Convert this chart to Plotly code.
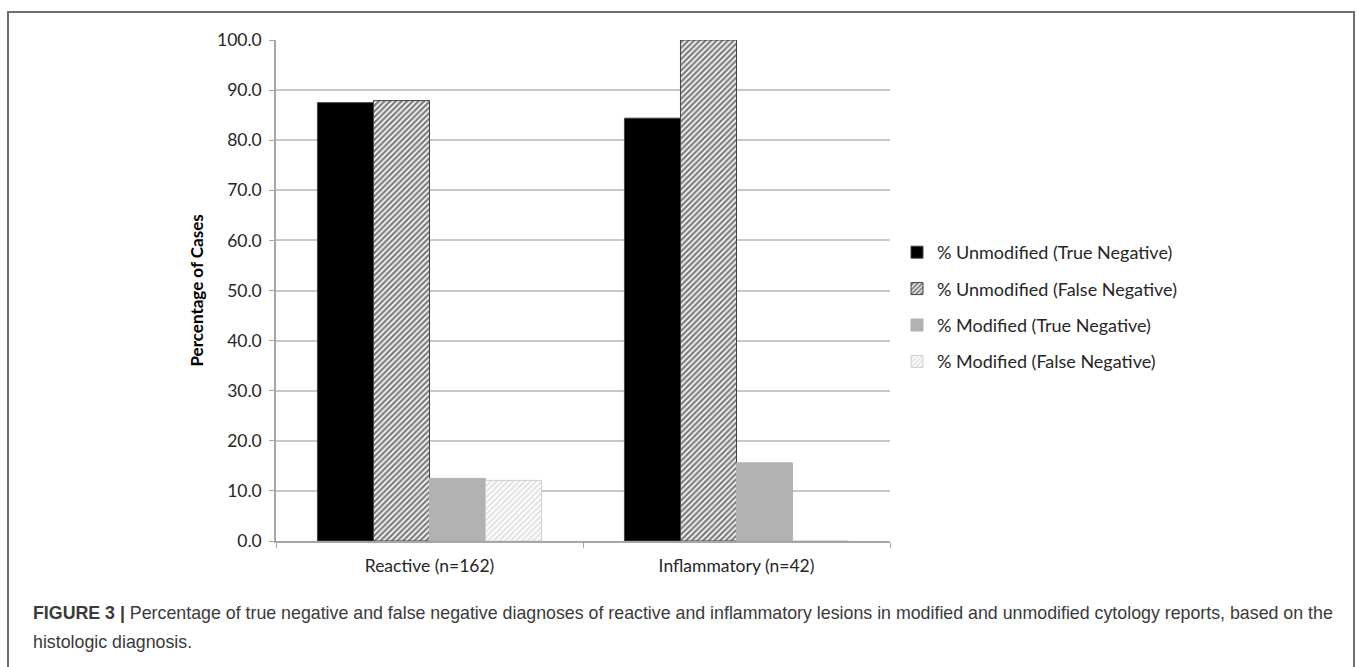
import plotly.graph_objects as go

# Diagnostic outcome percentages per lesion type
categories = ["Reactive (n=162)", "Inflammatory (n=42)"]
unmodified_true_neg = [87.5, 84.4]
unmodified_false_neg = [87.9, 100.0]
modified_true_neg = [12.5, 15.6]
modified_false_neg = [12.1, 0.0]

series_names = [
    "% Unmodified (True Negative)",
    "% Unmodified (False Negative)",
    "% Modified (True Negative)",
    "% Modified (False Negative)",
]
y_ticks = [0, 10, 20, 30, 40, 50, 60, 70, 80, 90, 100]

W, H = 1357, 667
L, R, T, B = 276, 890, 40, 541  # plot area in pixels


def px_x(x):
    return (x - L) / (R - L)


def px_y(y):
    return (B - y) / (B - T)


chart_font = "Lato, 'Open Sans', sans-serif"
text_col = "#262626"

fig = go.Figure()

fig.add_trace(go.Bar(
    x=categories, y=unmodified_true_neg, name=series_names[0], legendgroup="a",
    marker=dict(color="#000000", line=dict(color="#444444", width=1)),
))
fig.add_trace(go.Bar(
    x=categories, y=unmodified_false_neg, name=series_names[1], legendgroup="b",
    marker=dict(color="#ffffff", line=dict(color="#444444", width=1),
                pattern=dict(shape="/", fgcolor="#000000", bgcolor="#ffffff",
                             size=4, solidity=0.6)),
))
fig.add_trace(go.Bar(
    x=categories, y=modified_true_neg, name=series_names[2], legendgroup="c",
    marker=dict(color="#b2b2b2", line=dict(color="#b2b2b2", width=1)),
))
fig.add_trace(go.Bar(
    x=categories, y=modified_false_neg, name=series_names[3], legendgroup="d",
    marker=dict(color="#ffffff", line=dict(color="#d0d0d0", width=1),
                pattern=dict(shape="/", fgcolor="#c4c4c4", bgcolor="#ffffff",
                             size=4, solidity=0.5)),
))

fig.update_layout(
    width=W, height=H,
    margin=dict(l=L, r=W - R, t=T, b=H - B),
    paper_bgcolor="white", plot_bgcolor="white",
    barmode="group", bargap=0.27, bargroupgap=0,
    font=dict(family=chart_font, size=17, color=text_col),
    showlegend=True,
    legend=dict(
        x=px_x(897), y=px_y(234), xanchor="left", yanchor="top",
        font=dict(family=chart_font, size=18, color=text_col),
        bgcolor="rgba(0,0,0,0)", tracegroupgap=10, itemwidth=30,
    ),
    xaxis=dict(
        type="category", showgrid=False, zeroline=False,
        showline=True, linecolor="#a6a6a6", linewidth=1.5,
        ticks="outside", tickson="boundaries", ticklen=5, tickcolor="#a6a6a6",
        tickfont=dict(family=chart_font, size=17.5, color=text_col),
        ticklabelstandoff=8,
    ),
    yaxis=dict(
        range=[0, 100], tickvals=y_ticks,
        ticktext=[f"{v:.1f}" for v in y_ticks],
        showgrid=True, gridcolor="#c8c8c8", gridwidth=1.5, zeroline=False,
        showline=True, linecolor="#a6a6a6", linewidth=1.5,
        ticks="outside", ticklen=5, tickcolor="#a6a6a6",
        tickfont=dict(family=chart_font, size=17.5, color=text_col),
        ticklabelstandoff=4,
    ),
)

# Y-axis title
fig.add_annotation(
    text="<b>Percentage of Cases</b>", textangle=-90,
    x=px_x(196), y=0.5, xref="paper", yref="paper",
    xanchor="center", yanchor="middle", showarrow=False,
    font=dict(family=chart_font, size=17, color="#000000"),
)

# Figure caption, two lines
caption_lines = [
    "<b>FIGURE 3 |</b> Percentage of true negative and false negative diagnoses of "
    "reactive and inflammatory lesions in modified and unmodified cytology reports, "
    "based on the",
    "histologic diagnosis.",
]
caption_centres = [613, 642]
for line, yc in zip(caption_lines, caption_centres):
    fig.add_annotation(
        text=line, x=px_x(31), y=px_y(yc), xref="paper", yref="paper",
        xanchor="left", yanchor="middle", align="left", showarrow=False,
        font=dict(family="'Liberation Sans', Arial, sans-serif", size=17.8, color="#3a3a3a"),
    )

# Outer frame around chart and caption
fig.add_shape(
    type="rect", xref="paper", yref="paper",
    x0=px_x(8), x1=px_x(1354), y0=px_y(690), y1=px_y(12),
    line=dict(color="#6e6e6e", width=2), fillcolor="rgba(0,0,0,0)", layer="below",
)

fig.write_html("out.html")
